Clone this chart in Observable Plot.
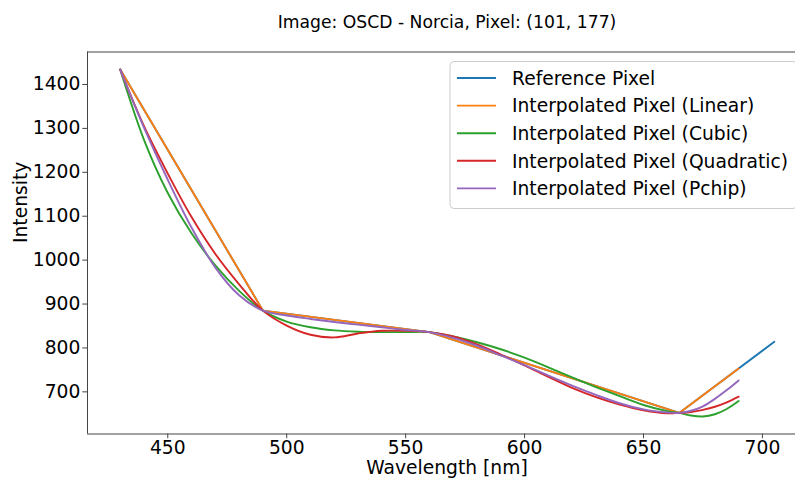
<!DOCTYPE html>
<html><head><meta charset="utf-8">
<script src="https://cdn.jsdelivr.net/npm/d3@7"></script>
<script src="https://cdn.jsdelivr.net/npm/@observablehq/plot@0.6"></script>
<style>
html,body{margin:0;padding:0;background:#fff;}
#chart{position:relative;width:795px;height:482px;overflow:hidden;}
</style></head><body><div id="chart"></div>
<script>
const title = "Image: OSCD - Norcia, Pixel: (101, 177)";
const xLabel = "Wavelength [nm]";
const yLabel = "Intensity";
const seriesNames = ["Reference Pixel", "Interpolated Pixel (Linear)", "Interpolated Pixel (Cubic)", "Interpolated Pixel (Quadratic)", "Interpolated Pixel (Pchip)"];
const seriesColors = ["#1f77b4", "#ff7f0e", "#2ca02c", "#d62728", "#9467bd"];
const xTicks = [450, 500, 550, 600, 650, 700];
const yTicks = [700, 800, 900, 1000, 1100, 1200, 1300, 1400];
const xDomain = [416.25, 713.9];
const yDomain = [604, 1474];

// Reference pixel (band centres)
const refWavelength = [430, 490, 560, 665, 705];
const refIntensity = [1434, 885, 836, 652, 814];
// Linear interpolation (straight segments, evaluated up to 690 nm)
const linearWavelength = [430, 490, 560, 665, 690];
const linearIntensity = [1434, 885, 836, 652, 753];
// Smooth interpolations, read every 10 nm
const curveWavelength = [430, 440, 450, 460, 470, 480, 490, 500, 510, 520, 530, 540, 550, 560, 570, 580, 590, 600, 610, 620, 630, 640, 650, 660, 665, 670, 675, 680, 685, 690];
const cubicIntensity = [1434, 1274, 1153, 1061, 988, 930, 885, 860, 847, 840, 837, 836, 836, 836, 826, 813, 797, 778, 756, 733, 711, 690, 670, 656, 652, 646, 644, 649, 661, 679];
const quadraticIntensity = [1434, 1305, 1197, 1098, 1014, 945, 885, 851, 830, 824, 833, 839, 839, 836, 826, 808, 785, 760, 734, 709, 688, 671, 658, 651, 652, 654, 659, 666, 676, 689];
const pchipIntensity = [1434, 1302, 1183, 1074, 983, 920, 885, 874, 866, 859, 853, 847, 841, 836, 823, 805, 783, 761, 737, 714, 693, 674, 660, 653, 652, 657, 667, 684, 704, 726];

const toRows = (name, xs, ys) => xs.map((x, i) => ({series: name, wavelength: x, intensity: ys[i]}));
const refRows = toRows(seriesNames[0], refWavelength, refIntensity);
const linearRows = toRows(seriesNames[1], linearWavelength, linearIntensity);
const cubicRows = toRows(seriesNames[2], curveWavelength, cubicIntensity);
const quadraticRows = toRows(seriesNames[3], curveWavelength, quadraticIntensity);
const pchipRows = toRows(seriesNames[4], curveWavelength, pchipIntensity);

const lw = 1.9;
const lineOpts = (curve) => ({x: "wavelength", y: "intensity", stroke: "series", strokeWidth: lw, curve});

const plot = Plot.plot({
  width: 795, height: 482,
  marginLeft: 87, marginRight: 0, marginTop: 51.5, marginBottom: 48.5,
  style: {fontFamily: "DejaVu Sans, sans-serif", fontSize: "18.7px", color: "#000", background: "#fff", overflow: "visible"},
  x: {domain: xDomain},
  y: {domain: yDomain},
  color: {domain: seriesNames, range: seriesColors},
  marks: [
    Plot.line(refRows, lineOpts("linear")),
    Plot.line(linearRows, lineOpts("linear")),
    Plot.line(cubicRows, lineOpts("catmull-rom")),
    Plot.line(quadraticRows, lineOpts("catmull-rom")),
    Plot.line(pchipRows, lineOpts("catmull-rom")),
    Plot.ruleX([xDomain[0]], {stroke: "#444", strokeWidth: 1}),
    Plot.ruleY([yDomain[0], yDomain[1]], {stroke: "#444", strokeWidth: 1}),
    Plot.axisX(xTicks, {tickSize: 4.7, tickPadding: 2, label: null, fontSize: 18.7, stroke: "#444", tickFormat: d => String(d)}),
    Plot.axisY(yTicks, {tickSize: 4.7, tickPadding: 2.5, label: null, fontSize: 18.7, stroke: "#444", tickFormat: d => String(d)}),
    Plot.text([xLabel], {frameAnchor: "bottom", dx: 5.5, dy: 39.5, fontSize: 18.7}),
    Plot.text([yLabel], {frameAnchor: "left", dx: -66, rotate: -90, fontSize: 18.7}),
    Plot.text([title], {frameAnchor: "top", dx: 5.5, dy: -36, fontSize: 17.2})
  ]
});

// Legend box (upper right, partly beyond the visible edge like the reference)
const svg = d3.select(plot);
const lg = svg.append("g").attr("font-family", "DejaVu Sans, sans-serif").attr("font-size", 18.7).attr("text-anchor", "start");
lg.append("rect").attr("x", 450).attr("y", 61.5).attr("width", 347).attr("height", 147).attr("rx", 4)
  .attr("fill", "#fff").attr("fill-opacity", 0.8).attr("stroke", "#ccc").attr("stroke-width", 1);
seriesNames.forEach((name, i) => {
  const y = 78 + i * 27.6;
  lg.append("line").attr("x1", 457).attr("x2", 496).attr("y1", y).attr("y2", y)
    .attr("stroke", seriesColors[i]).attr("stroke-width", lw);
  lg.append("text").attr("x", 512).attr("y", y + 6.8).attr("fill", "#000").attr("text-anchor", "start").text(name);
});

document.getElementById("chart").appendChild(plot);
</script></body></html>
